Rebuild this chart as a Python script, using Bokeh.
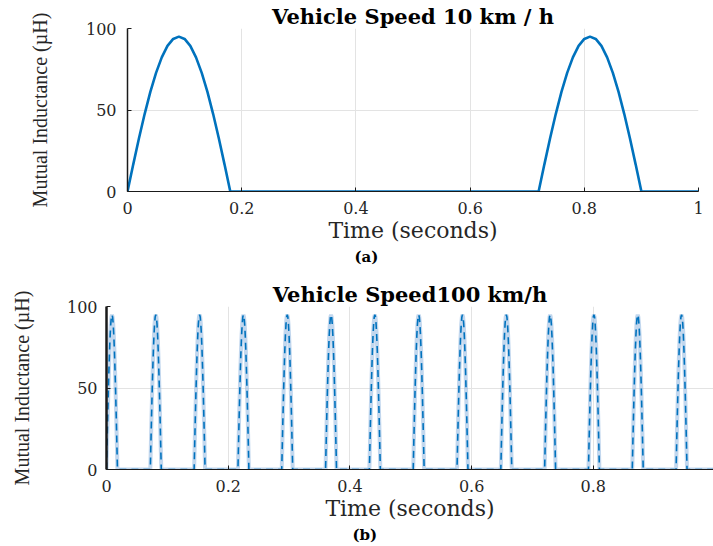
from bokeh.plotting import figure
from bokeh.layouts import column, row
from bokeh.models import Title, FixedTicker, NumeralTickFormatter, Range1d
from bokeh.embed import file_html
from bokeh.resources import INLINE

# ---------------- data ----------------
title_a = "Vehicle Speed 10 km / h"
title_b = "Vehicle Speed100 km/h"
caption_a = "(a)"
caption_b = "(b)"
x_label = "Time (seconds)"
y_label = "Mutual Inductance (\u00b5H)"
x_ticks = [0, 0.2, 0.4, 0.6, 0.8, 1]
y_ticks = [0, 50, 100]

# hump profile (µH) at equally spaced offsets across one pulse
hump_values = [0, 16.5, 32.5, 47.5, 61.1, 72.8, 82.3, 89.3, 93.6, 95.0,
               93.6, 89.3, 82.3, 72.8, 61.1, 47.5, 32.5, 16.5, 0]
# (a) 10 km/h: pulse width 0.18 s
offsets_a = [-0.09, -0.08, -0.07, -0.06, -0.05, -0.04, -0.03, -0.02, -0.01, 0.0,
             0.01, 0.02, 0.03, 0.04, 0.05, 0.06, 0.07, 0.08, 0.09]
peaks_a = [0.09, 0.81]
# (b) 100 km/h: pulse width 0.018 s
offsets_b = [-0.009, -0.008, -0.007, -0.006, -0.005, -0.004, -0.003, -0.002, -0.001, 0.0,
             0.001, 0.002, 0.003, 0.004, 0.005, 0.006, 0.007, 0.008, 0.009]
peaks_b = [0.009, 0.081, 0.153, 0.225, 0.297, 0.369, 0.441, 0.513, 0.585,
           0.657, 0.729, 0.801, 0.873, 0.945]


def build(peaks, offsets):
    t, m = [0.0], [0.0]
    for c in peaks:
        for o, v in zip(offsets, hump_values):
            t.append(round(c + o, 5))
            m.append(v)
    t.append(1.0)
    m.append(0.0)
    return t, m


ta, ma = build(peaks_a, offsets_a)
tb, mb = build(peaks_b, offsets_b)

BLUE = "#0072BD"
SERIF = "DejaVu Serif"
TIMES = "Liberation Serif"


def style(p, ylabel_standoff, tick_standoff, yaxis_width, title_text, caption, caption_offset):
    p.outline_line_color = None
    p.background_fill_color = "white"
    p.border_fill_color = "white"
    p.title.text = title_text
    p.title.text_font = SERIF
    p.title.text_font_size = "21px"
    p.title.text_font_style = "bold"
    p.title.text_color = "black"
    p.title.align = "center"
    p.title.standoff = 0
    for ax in (p.xaxis[0], p.yaxis[0]):
        ax.axis_line_color = "#1a1a1a"
        ax.major_tick_line_color = "#1a1a1a"
        ax.major_tick_in = 4
        ax.major_tick_out = 0
        ax.minor_tick_line_color = None
        ax.major_label_text_font = SERIF
        ax.major_label_text_font_size = "16px"
        ax.major_label_text_color = "#262626"
        ax.axis_label_text_color = "#262626"
        ax.axis_label_text_font_style = "normal"
    p.xaxis[0].ticker = FixedTicker(ticks=x_ticks)
    p.xaxis[0].formatter = NumeralTickFormatter(format="0.[0]")
    p.xaxis[0].axis_label = x_label
    p.xaxis[0].axis_label_text_font = SERIF
    p.xaxis[0].axis_label_text_font_size = "22px"
    p.xaxis[0].major_label_standoff = 10
    p.xaxis[0].axis_label_standoff = 1
    p.yaxis[0].ticker = FixedTicker(ticks=y_ticks)
    p.yaxis[0].axis_label = y_label
    p.yaxis[0].axis_label_text_font = TIMES
    p.yaxis[0].axis_label_text_font_size = "20px"
    p.yaxis[0].major_label_standoff = tick_standoff
    p.yaxis[0].axis_label_standoff = ylabel_standoff
    p.yaxis[0].axis_line_width = yaxis_width
    p.xgrid.ticker = FixedTicker(ticks=x_ticks)
    p.ygrid.ticker = FixedTicker(ticks=y_ticks)
    for g in (p.xgrid[0], p.ygrid[0]):
        g.grid_line_color = "#e3e3e3"
        g.grid_line_width = 1
    p.add_layout(Title(text=caption, align="left", offset=caption_offset,
                       text_font=SERIF, text_font_size="15px", text_font_style="bold",
                       text_color="black", standoff=0), "below")


# ---------------- (a) ----------------
p1 = figure(frame_width=571, frame_height=163, output_backend="svg", toolbar_location=None,
            x_range=Range1d(0, 1), y_range=Range1d(0, 100),
            min_border_left=127, min_border_right=15, min_border_top=28,
            min_border_bottom=72)
style(p1, ylabel_standoff=32, tick_standoff=11, yaxis_width=1.5,
      title_text=title_a, caption=caption_a, caption_offset=227)
p1.line(ta, ma, line_color=BLUE, line_width=2.6)

# ---------------- (b) ----------------
p2 = figure(frame_width=607, frame_height=163, output_backend="svg", toolbar_location=None,
            x_range=Range1d(0, 0.9975), y_range=Range1d(0, 100),
            min_border_left=106, min_border_right=0, min_border_top=41,
            min_border_bottom=72)
style(p2, ylabel_standoff=31, tick_standoff=9, yaxis_width=2.5,
      title_text=title_b, caption=caption_b, caption_offset=246)
p2.line(tb, mb, line_color="#8fb6e0", line_width=4, line_alpha=0.55)
p2.line(tb, mb, line_color=BLUE, line_width=1.6, line_dash="7 5")

layout = column(row(p1), row(p2), spacing=0)
open("out.html", "w").write(file_html(layout, INLINE))
